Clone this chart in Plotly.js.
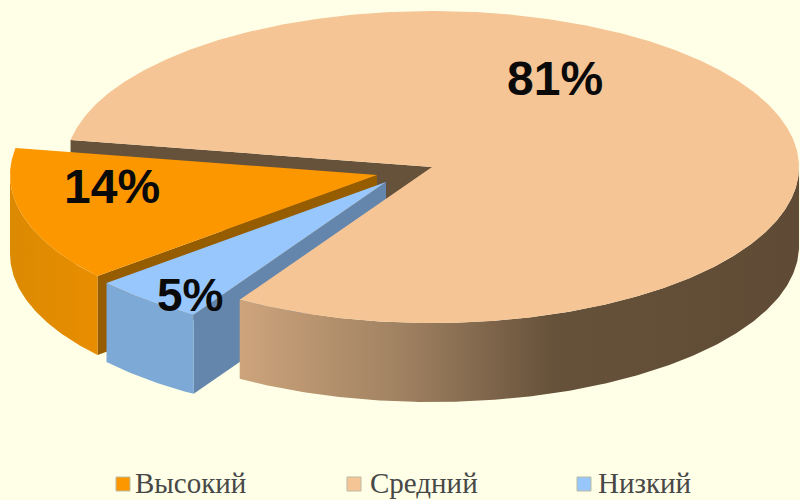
<!DOCTYPE html>
<html>
<head>
<meta charset="utf-8">
<script src="https://cdn.plot.ly/plotly-3.0.1.min.js"></script>
<style>html,body{margin:0;padding:0;background:#FEFFE6;overflow:hidden}#c{width:800px;height:500px}</style>
</head>
<body>
<div id="c"></div>
<script>
// Data
var categories = ['Высокий', 'Средний', 'Низкий'];
var percents = [14, 81, 5];
var colors = ['#FD9700', '#F5C596', '#97C7FC'];
var labelX = [112, 555, 190];
var labelY = [186, 78, 295];
var labelSize = [48, 48, 46];
var keyX = [123, 354, 584];
var keyTextX = [135, 370, 598];
var keyY = 484;
var keyTextY = 486;

// Projection of the tilted pie
var RX = 367, RY = 156, DEPTH = 79, START = 280;
var centers = [[377, 175], [432, 167], [386, 182]];

// Slice angles derived from the values, clockwise from 12 o'clock
var angles = [], cur = START - percents[0] * 3.6;
percents.forEach(function (p) {
  angles.push([cur, cur + p * 3.6]);
  cur += p * 3.6;
});
function pt(c, t, dy) {
  var r = t * Math.PI / 180;
  return [c[0] + RX * Math.sin(r), c[1] - RY * Math.cos(r) + (dy || 0)];
}
function arc(c, a, b, dy) {
  var out = [], n = Math.max(2, Math.ceil(Math.abs(b - a) * 2));
  for (var i = 0; i <= n; i++) out.push(pt(c, a + (b - a) * i / n, dy));
  return out;
}
function poly(points, color, gradient) {
  var tr = {
    type: 'scatter', mode: 'lines', fill: 'toself', hoverinfo: 'skip', showlegend: false,
    x: points.map(function (p) { return p[0]; }), y: points.map(function (p) { return p[1]; }),
    line: { width: 0, color: color }, fillcolor: color
  };
  if (gradient) tr.fillgradient = { type: 'horizontal', colorscale: gradient };
  return tr;
}
function face(i) {
  return poly([centers[i]].concat(arc(centers[i], angles[i][0], angles[i][1])).concat([centers[i]]), colors[i]);
}
function rim(i, a, b, color, gradient) {
  return poly(arc(centers[i], a, b).concat(arc(centers[i], b, a, DEPTH)), color, gradient);
}
function cut(i, t, color) {
  var c = centers[i], e = pt(c, t);
  return poly([c, e, [e[0], e[1] + DEPTH], [c[0], c[1] + DEPTH]], color);
}

var oA = angles[0], mA = angles[1], bA = angles[2];
var traces = [
  cut(1, mA[0], '#66513A'),
  cut(0, oA[0], '#955C00'),
  rim(0, oA[0], 270, '#E08A00', [[0, '#DC8A02'], [1, '#E88D00']]),
  face(0),
  cut(2, bA[0], '#6486AD'),
  rim(2, bA[0], bA[1], '#7DA9D6'),
  face(2),
  rim(1, 90, mA[1] - 360, '#66513A', [[0, '#CDA47C'], [0.3, '#9E8060'], [0.56, '#66513A'], [1, '#5F4B35']]),
  face(1)
];

// Colour key: swatch + label for every category
categories.forEach(function (name, i) {
  traces.push({
    type: 'scatter', mode: 'markers', name: name, x: [keyX[i]], y: [keyY], hoverinfo: 'skip',
    showlegend: false, cliponaxis: false,
    marker: { symbol: 'square', size: 14, color: colors[i], line: { width: 1, color: '#BBBBA5' } }
  });
  traces.push({
    type: 'scatter', mode: 'text', name: name, x: [keyTextX[i]], y: [keyTextY], hoverinfo: 'skip',
    showlegend: false, cliponaxis: false,
    text: [name], textposition: 'middle right',
    textfont: { family: 'Liberation Serif', size: 29, color: '#484848' }
  });
});

var annotations = percents.map(function (p, i) {
  return {
    x: labelX[i], y: labelY[i], xref: 'x', yref: 'y', text: p + '%', showarrow: false,
    font: { family: 'Liberation Sans', size: labelSize[i], color: '#0A0A0A', weight: 700 }
  };
});

var layout = {
  width: 800, height: 500,
  margin: { l: 0, r: 0, t: 0, b: 0 },
  paper_bgcolor: '#FEFFE6', plot_bgcolor: '#FEFFE6',
  showlegend: false,
  xaxis: { range: [0, 800], visible: false, fixedrange: true },
  yaxis: { range: [500, 0], visible: false, fixedrange: true },
  annotations: annotations
};
Plotly.newPlot('c', traces, layout, { displayModeBar: false, staticPlot: true });
</script>
</body>
</html>
